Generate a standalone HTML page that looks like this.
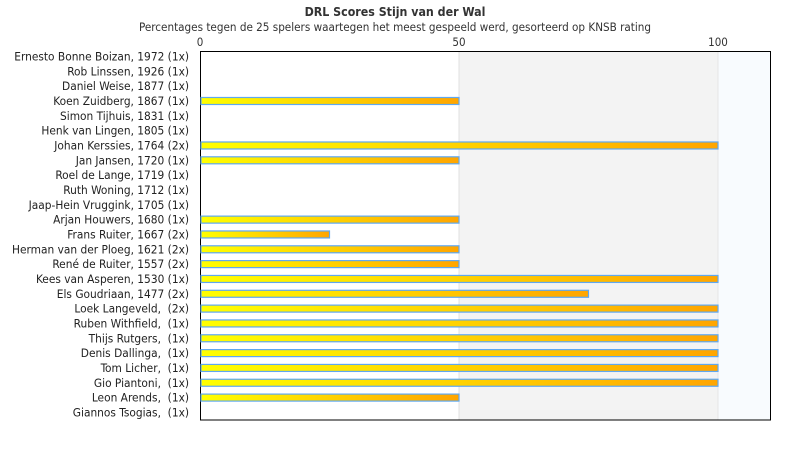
<!DOCTYPE html>
<html><head><meta charset="utf-8"><style>
body{margin:0;width:790px;height:450px;background:#fff;overflow:hidden;}
</style></head><body>
<svg width="790" height="450" xmlns="http://www.w3.org/2000/svg" font-family="DejaVu Sans Condensed, DejaVu Sans, sans-serif">
<defs><linearGradient id="g" x1="0" x2="1" y1="0" y2="0"><stop offset="0" stop-color="#ffff00"/><stop offset="1" stop-color="#ffa500"/></linearGradient></defs>
<text x="395" y="16" text-anchor="middle" font-size="12.3" font-weight="bold" fill="#333">DRL Scores Stijn van der Wal</text>
<text x="395" y="31" text-anchor="middle" font-size="11.6" fill="#333">Percentages tegen de 25 spelers waartegen het meest gespeeld werd, gesorteerd op KNSB rating</text>
<rect x="459" y="51" width="259" height="369" fill="#f3f3f3"/>
<rect x="718" y="51" width="52" height="369" fill="#f8fbfe"/>
<line x1="459" y1="51" x2="459" y2="420" stroke="#e0e0e0"/>
<line x1="718" y1="51" x2="718" y2="420" stroke="#e6e6e6"/>
<rect x="200.5" y="51.5" width="570" height="368.5" fill="none" stroke="#000"/>
<g font-size="11.5" fill="#333" text-anchor="middle">
<text x="200" y="46">0</text><text x="459" y="46">50</text><text x="718" y="46">100</text></g>
<g id="rows" font-size="11.8" fill="#222" text-anchor="end"></g>
<g id="bars"></g>
</svg>
<script>
const d=[["Ernesto Bonne Boizan, 1972 (1x)",0],["Rob Linssen, 1926 (1x)",0],["Daniel Weise, 1877 (1x)",0],["Koen Zuidberg, 1867 (1x)",50],["Simon Tijhuis, 1831 (1x)",0],["Henk van Lingen, 1805 (1x)",0],["Johan Kerssies, 1764 (2x)",100],["Jan Jansen, 1720 (1x)",50],["Roel de Lange, 1719 (1x)",0],["Ruth Woning, 1712 (1x)",0],["Jaap-Hein Vruggink, 1705 (1x)",0],["Arjan Houwers, 1680 (1x)",50],["Frans Ruiter, 1667 (2x)",25],["Herman van der Ploeg, 1621 (2x)",50],["René de Ruiter, 1557 (2x)",50],["Kees van Asperen, 1530 (1x)",100],["Els Goudriaan, 1477 (2x)",75],["Loek Langeveld,  (2x)",100],["Ruben Withfield,  (1x)",100],["Thijs Rutgers,  (1x)",100],["Denis Dallinga,  (1x)",100],["Tom Licher,  (1x)",100],["Gio Piantoni,  (1x)",100],["Leon Arends,  (1x)",50],["Giannos Tsogias,  (1x)",0]];
const ns="http://www.w3.org/2000/svg";let r=document.getElementById("rows"),b=document.getElementById("bars");
d.forEach((e,i)=>{const c=56.5+i*14.83;let t=document.createElementNS(ns,"text");t.setAttribute("x",189);t.setAttribute("y",c+4);t.style.whiteSpace="pre";t.textContent=e[0];r.appendChild(t);
if(e[1]>0){let q=document.createElementNS(ns,"rect");q.setAttribute("x",201);q.setAttribute("y",c-3.5);q.setAttribute("width",e[1]*5.18-1);q.setAttribute("height",7);q.setAttribute("fill","url(#g)");q.setAttribute("stroke","#5fa8f0");q.setAttribute("stroke-width","1.2");b.appendChild(q);}});
</script>
</body></html>
